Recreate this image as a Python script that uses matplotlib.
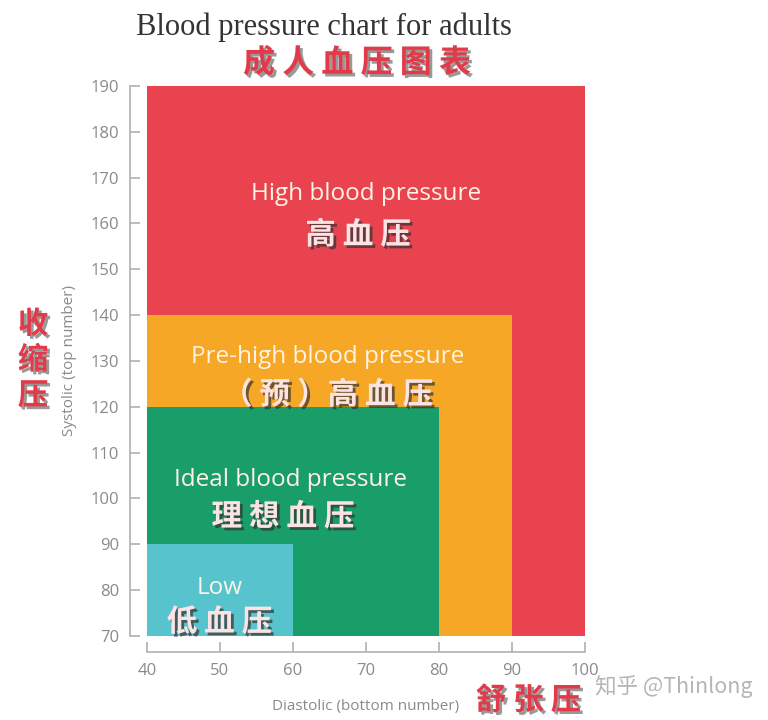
import matplotlib.pyplot as plt
import matplotlib.patheffects as pe

# blood pressure zones, anchored at diastolic 40 / systolic 70
zones = ['High', 'Pre-high', 'Ideal', 'Low']
diastolic_max = [100, 90, 80, 60]
systolic_max = [190, 140, 120, 90]
zone_colors = ['#E9434F', '#F6A726', '#199E6A', '#57C3CC']
x_ticks = [40, 50, 60, 70, 80, 90, 100]
y_ticks = [70, 80, 90, 100, 110, 120, 130, 140, 150, 160, 170, 180, 190]

plt.rcParams['font.family'] = ['Open Sans', 'DejaVu Sans']
cjk = ['Noto Sans CJK SC', 'DejaVu Sans']

fig = plt.figure(figsize=(7.68, 7.2), dpi=100)
ax = fig.add_axes([0.1914, 0.1167, 0.5703, 0.7639])

for xm, ym, c in zip(diastolic_max, systolic_max, zone_colors):
    ax.bar(40, ym - 70, width=xm - 40, bottom=70, align='edge', color=c, linewidth=0)

ax.set_xlim(40, 100)
ax.set_ylim(70, 190)
ax.set_xticks(x_ticks)
ax.set_yticks(y_ticks)

grey = '#8a8a8a'
for s in ['top', 'right']:
    ax.spines[s].set_visible(False)
ax.spines['left'].set_position(('outward', 12))
ax.spines['bottom'].set_position(('outward', 11.5))
for s in ['left', 'bottom']:
    ax.spines[s].set_color('#b0b0b0')
    ax.spines[s].set_linewidth(1.2)
ax.tick_params(direction='in', length=7, width=1.2, color='#b0b0b0', labelcolor=grey, labelsize=12, pad=8)
ax.spines['left'].set_bounds(70, 190)
ax.spines['bottom'].set_bounds(40, 100)

ax.set_xlabel('Diastolic (bottom number)', color=grey, fontsize=11, labelpad=14)
ax.set_ylabel('Systolic (top number)', color=grey, fontsize=11, labelpad=10)

light = '#FFF3E6'
shadow = [pe.SimplePatchShadow(offset=(2, -2), shadow_rgbFace='#333333', alpha=0.7), pe.Normal()]
red_shadow = [pe.SimplePatchShadow(offset=(2, -2), shadow_rgbFace='#555555', alpha=0.6), pe.Normal()]

ax.text(70, 166.4, 'High blood pressure', color=light, fontsize=17.5, ha='center', va='center')
ax.text(68.9, 157.5, '高 血 压', color='#FBE3E3', fontsize=22, weight='bold', family=cjk,
        ha='center', va='center', path_effects=shadow)
ax.text(64.7, 130.9, 'Pre-high blood pressure', color=light, fontsize=17.5, ha='center', va='center')
ax.text(64.7, 122.6, '（ 预 ）高 血 压', color='#FBE3E3', fontsize=22, weight='bold', family=cjk,
        ha='center', va='center', path_effects=shadow)
ax.text(59.6, 104, 'Ideal blood pressure', color=light, fontsize=17.5, ha='center', va='center')
ax.text(58.6, 96, '理 想 血 压', color='#FBE3E3', fontsize=22, weight='bold', family=cjk,
        ha='center', va='center', path_effects=shadow)
ax.text(49.9, 80.5, 'Low', color=light, fontsize=17.5, ha='center', va='center')
ax.text(49.9, 73, '低 血 压', color='#FBE3E3', fontsize=22, weight='bold', family=cjk,
        ha='center', va='center', path_effects=shadow)

fig.text(0.422, 0.962, 'Blood pressure chart for adults', family=['Liberation Serif', 'DejaVu Serif'],
         fontsize=22, color='#333333', ha='center', va='center')
fig.text(0.465, 0.912, '成 人 血 压 图 表', family=cjk, weight='bold', fontsize=23, color='#E23A48',
         ha='center', va='center', path_effects=red_shadow)
fig.text(0.043, 0.500, '收\n缩\n压', family=cjk, weight='bold', fontsize=22, color='#E23A48',
         ha='center', va='center', linespacing=1.15, path_effects=red_shadow)
fig.text(0.688, 0.027, '舒 张 压', family=cjk, weight='bold', fontsize=22, color='#E23A48',
         ha='center', va='center', path_effects=red_shadow)
fig.text(0.877, 0.046, '知乎 @Thinlong', family=cjk, fontsize=15.5, color='#b5b5b5',
         ha='center', va='center')

fig.savefig('out.png', dpi=100)
